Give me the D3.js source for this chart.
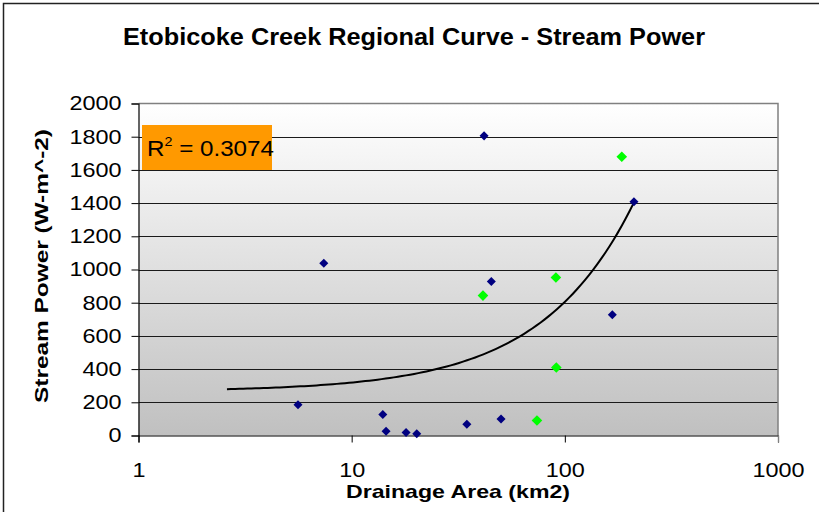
<!DOCTYPE html>
<html>
<head>
<meta charset="utf-8">
<script src="https://cdn.jsdelivr.net/npm/d3@7"></script>
<style>
  html, body { margin: 0; padding: 0; background: #fff; }
  svg { display: block; font-family: "Liberation Sans", Arial, sans-serif; }
</style>
</head>
<body>
<svg id="chart" width="819" height="512"></svg>
<script>
// Etobicoke Creek sites: drainage area (km2) and stream power (W/m^2)
const blueArea  = [5.6, 7.4, 14.0, 14.5, 18.0, 20.2, 34.7, 41.8, 45.2, 50.2, 167, 211];
const bluePower = [185, 1038, 127, 26, 18, 10, 68, 1805, 928, 100, 727, 1408];
const greenArea  = [41.3, 74, 90.8, 91.2, 185];
const greenPower = [843, 90, 952, 410, 1679];

// Linear trendline (fit on the blue series), drawn over this x range
const trendSlope = 5.4;
const trendIntercept = 265;
const trendRange = [2.6, 211];
const rSquared = "0.3074";

const xTicks = [1, 10, 100, 1000];
const yTicks = [0, 200, 400, 600, 800, 1000, 1200, 1400, 1600, 1800, 2000];

const svg = d3.select("#chart");
const m = { left: 138.5, right: 778, top: 103.5, bottom: 435.5 };
const widen = 1.17; // horizontal stretch of the label lettering

const x = d3.scaleLog().domain([1, 1000]).range([m.left, m.right]);
const y = d3.scaleLinear().domain([0, 2000]).range([m.bottom, m.top]);

// stretch a text element horizontally to a given factor of its natural width
function stretch(sel, factor) {
  sel.each(function () {
    const w = this.getComputedTextLength();
    d3.select(this).attr("textLength", w * factor).attr("lengthAdjust", "spacingAndGlyphs");
  });
}

// outer frame (extends past the right and bottom edges)
svg.append("rect")
  .attr("x", 3.5).attr("y", 3.5).attr("width", 830).attr("height", 520)
  .attr("fill", "none").attr("stroke", "#222").attr("stroke-width", 1.5);

// plot background gradient
const defs = svg.append("defs");
const grad = defs.append("linearGradient").attr("id", "bg")
  .attr("x1", 0).attr("y1", 0).attr("x2", 0).attr("y2", 1);
grad.append("stop").attr("offset", "0%").attr("stop-color", "#ffffff");
grad.append("stop").attr("offset", "100%").attr("stop-color", "#c0c0c0");

svg.append("rect")
  .attr("x", m.left).attr("y", m.top)
  .attr("width", m.right - m.left).attr("height", m.bottom - m.top)
  .attr("fill", "url(#bg)");

// horizontal gridlines
svg.append("g").selectAll("line").data(yTicks.filter(d => d > 0 && d < 2000)).join("line")
  .attr("x1", m.left).attr("x2", m.right)
  .attr("y1", d => Math.round(y(d)) + 0.5).attr("y2", d => Math.round(y(d)) + 0.5)
  .attr("stroke", "#1a1a1a").attr("stroke-width", 1.2);

// plot border: grey top/right
svg.append("path")
  .attr("d", `M${m.left},${m.top}H${m.right}V${m.bottom}`)
  .attr("fill", "none").attr("stroke", "#808080").attr("stroke-width", 1.5);

// y axis
const yAxis = d3.axisLeft(y).tickValues(yTicks).tickSize(7).tickPadding(10).tickFormat(d3.format("d"));
const gy = svg.append("g").attr("transform", `translate(${m.left},0)`).call(yAxis);
gy.select(".domain").attr("stroke", "#000").attr("stroke-width", 1.2);
gy.selectAll(".tick line").attr("stroke", "#000");
gy.selectAll(".tick text").attr("font-size", 20).attr("fill", "#000")
  .attr("font-family", "Liberation Sans, Arial, sans-serif");
stretch(gy.selectAll(".tick text"), widen);

// x axis
const xAxis = d3.axisBottom(x).tickValues(xTicks).tickSize(7).tickPadding(20).tickFormat(d3.format("d"));
const gx = svg.append("g").attr("transform", `translate(0,${m.bottom})`).call(xAxis);
gx.select(".domain").attr("stroke", "#000").attr("stroke-width", 1.2);
gx.selectAll(".tick line").attr("stroke", d => d === 1000 ? "#808080" : "#000");
gx.selectAll(".tick text").attr("font-size", 20).attr("fill", "#000")
  .attr("font-family", "Liberation Sans, Arial, sans-serif");
stretch(gx.selectAll(".tick text"), widen);

// trendline
const trendX = d3.range(0, 101).map(i => trendRange[0] * Math.pow(trendRange[1] / trendRange[0], i / 100));
svg.append("path")
  .datum(trendX)
  .attr("d", d3.line().x(d => x(d)).y(d => y(trendSlope * d + trendIntercept)))
  .attr("fill", "none").attr("stroke", "#000").attr("stroke-width", 2);

// markers
const diamond = d3.symbol().type(d3.symbolDiamond2);
svg.append("g").selectAll("path").data(blueArea.map((a, i) => [a, bluePower[i]])).join("path")
  .attr("transform", d => `translate(${x(d[0])},${y(d[1])})`)
  .attr("d", diamond.size(52)())
  .attr("fill", "#000080");
svg.append("g").selectAll("path").data(greenArea.map((a, i) => [a, greenPower[i]])).join("path")
  .attr("transform", d => `translate(${x(d[0])},${y(d[1])})`)
  .attr("d", diamond.size(72)())
  .attr("fill", "#00ff00");

// R² label box
const rg = svg.append("g");
rg.append("rect").attr("x", 142).attr("y", 125).attr("width", 130).attr("height", 45).attr("fill", "#ff9900");
const rt = rg.append("g").attr("transform", "translate(147,156) scale(1.1,1)")
  .append("text").attr("x", 0).attr("y", 0).attr("font-size", 22).attr("fill", "#000");
rt.append("tspan").text("R");
rt.append("tspan").attr("font-size", 13).attr("dy", -10).text("2");
rt.append("tspan").attr("dy", 10).text(" = " + rSquared);

// titles
svg.append("text").attr("x", 414).attr("y", 45).attr("text-anchor", "middle")
  .attr("font-size", 23).attr("font-weight", "bold")
  .attr("textLength", 582).attr("lengthAdjust", "spacingAndGlyphs")
  .text("Etobicoke Creek Regional Curve - Stream Power");
svg.append("text").attr("x", 458).attr("y", 498).attr("text-anchor", "middle")
  .attr("font-size", 19).attr("font-weight", "bold")
  .attr("textLength", 224).attr("lengthAdjust", "spacingAndGlyphs")
  .text("Drainage Area (km2)");
svg.append("text").attr("transform", "translate(48,266) rotate(-90)").attr("text-anchor", "middle")
  .attr("font-size", 19).attr("font-weight", "bold")
  .attr("textLength", 274).attr("lengthAdjust", "spacingAndGlyphs")
  .text("Stream Power (W-m^-2)");
</script>
</body>
</html>
